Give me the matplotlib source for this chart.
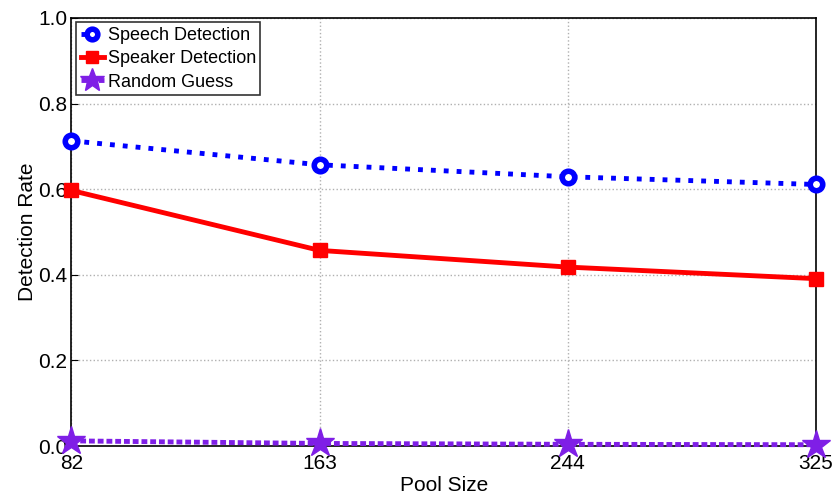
import matplotlib.pyplot as plt

pool_sizes = [82, 163, 244, 325]
speech_rate = [0.713, 0.657, 0.629, 0.611]
speaker_rate = [0.597, 0.457, 0.418, 0.391]
random_rate = [0.012, 0.006, 0.004, 0.003]

plt.rcParams['font.family'] = ['Liberation Sans', 'DejaVu Sans']

fig = plt.figure(figsize=(8.38, 4.98), dpi=100)
ax = fig.add_axes([0.0853, 0.1044, 0.8884, 0.8595])

ax.plot(pool_sizes, speech_rate, color='#0000ff', linestyle=':', linewidth=3.5,
        marker='o', markersize=9, markerfacecolor='white', markeredgewidth=4,
        markeredgecolor='#0000ff', label='Speech Detection', zorder=3, clip_on=False)
ax.plot(pool_sizes, speaker_rate, color='#ff0000', linestyle='-', linewidth=3.5,
        marker='s', markersize=10, label='Speaker Detection', zorder=3, clip_on=False)
ax.plot(pool_sizes, random_rate, color='#7f1fe6', linewidth=3.5,
        dashes=(1.2, 0.6), marker='*', markersize=21,
        label='Random Guess', zorder=3, clip_on=False)

ax.set_xlim(82, 325)
ax.set_ylim(0, 1.0)
ax.set_xticks(pool_sizes)
ax.set_yticks([0, 0.2, 0.4, 0.6, 0.8, 1.0])
ax.set_yticklabels(['0.0', '0.2', '0.4', '0.6', '0.8', '1.0'])
ax.tick_params(direction='in', length=5, labelsize=15, pad=3)
ax.tick_params(axis='x', pad=6)
ax.grid(True, linestyle=':', color='#b0b0b0', linewidth=1)
for s in ax.spines.values():
    s.set_linewidth(1.2)

ax.set_xlabel('Pool Size', fontsize=15, labelpad=2)
ax.set_ylabel('Detection Rate', fontsize=15, labelpad=1)

leg = ax.legend(loc='upper left', fontsize=13, frameon=True, fancybox=False,
                edgecolor='black', borderaxespad=0.25, handlelength=1.3,
                handletextpad=0.2, borderpad=0.25, labelspacing=0.35,
                markerscale=0.85)
leg.get_frame().set_linewidth(1.2)

fig.savefig('out.png', dpi=100)
